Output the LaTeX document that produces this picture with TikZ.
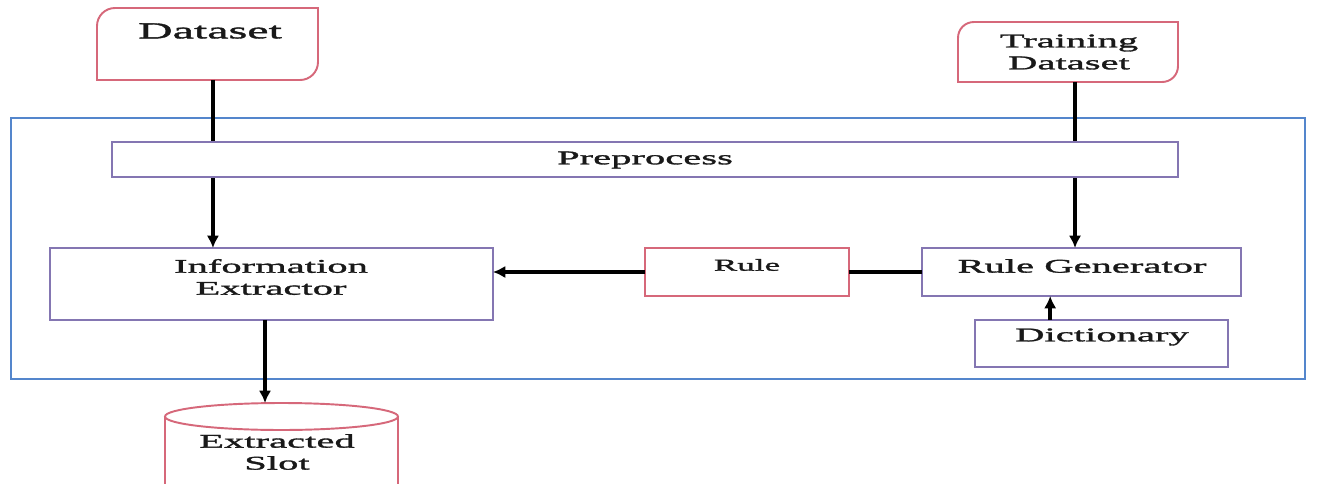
\documentclass[tikz,border=0pt]{standalone}
\usepackage{fontspec}
\setmainfont[FakeStretch=2.1, FakeBold=1.6]{Liberation Serif}
\usetikzlibrary{arrows.meta}
\definecolor{pinkline}{RGB}{214,104,122}
\definecolor{purpline}{RGB}{132,118,178}
\definecolor{blueline}{RGB}{84,134,204}
\definecolor{txtcol}{RGB}{25,25,25}
\tikzset{
  box/.style={draw=purpline, line width=1.1pt, fill=white, inner sep=0pt, outer sep=0pt},
  pinkbox/.style={draw=pinkline, line width=1.1pt, fill=white, inner sep=0pt, outer sep=0pt},
  hidebox/.style={draw=none, inner sep=0pt, outer sep=0pt},
  pinkpath/.style={draw=pinkline, line width=1.1pt, fill=white},
  txt/.style={text=txtcol, align=center, inner sep=0pt, font=\fontsize{11}{12.5}\selectfont},
  arr/.style={line width=2pt, black, -{Latex[length=7pt,width=7pt]}},
  conn/.style={line width=2pt, black},
}
\begin{document}
\begin{tikzpicture}[x=0.02cm,y=-0.02cm]
\clip (0,0) rectangle (1320,484);
\fill[white] (0,0) rectangle (1320,484);
% outer frame
\node[draw=blueline, line width=1.4pt, minimum width=25.88cm, minimum height=5.22cm, inner sep=0pt, outer sep=0pt] (frame) at (658,248.5) {};
% Dataset
\node[hidebox, minimum width=4.42cm, minimum height=1.44cm] (ds) at (207.5,44) {};
\draw[pinkpath] (97,26) .. controls (97,16) and (105,8) .. (115,8) -- (318,8) -- (318,62) .. controls (318,72) and (310,80) .. (300,80) -- (97,80) -- cycle;
\node[txt, font=\fontsize{13}{15}\selectfont] (dst) at (210,31) {Dataset};
% Training dataset
\node[hidebox, minimum width=4.40cm, minimum height=1.20cm] (td) at (1068,52) {};
\draw[pinkpath] (958,38) .. controls (958,29) and (965,22) .. (974,22) -- (1178,22) -- (1178,66) .. controls (1178,75) and (1171,82) .. (1162,82) -- (958,82) -- cycle;
\node[txt] (tdt) at (1069,52) {Training\\Dataset};
% Information extractor
\node[box, minimum width=8.86cm, minimum height=1.44cm] (ie) at (271.5,284) {};
\node[txt] (iet) at (271,277) {Information\\Extractor};
% Rule
\node[pinkbox, minimum width=4.08cm, minimum height=0.96cm] (rule) at (747,272) {};
\node[txt, font=\fontsize{9.5}{11}\selectfont] (rulet) at (747,265) {Rule};
% Rule generator
\node[box, minimum width=6.38cm, minimum height=0.96cm] (rg) at (1081.5,272) {};
\node[txt] (rgt) at (1082,266) {Rule Generator};
% Dictionary
\node[box, minimum width=5.06cm, minimum height=0.94cm] (dict) at (1101.5,343.5) {};
\node[txt] (dictt) at (1102,337) {Dictionary};
% Extracted slot cylinder
\draw[pinkpath] (165,416.5) -- (165,500) -- (398,500) -- (398,416.5);
\draw[pinkpath] (281.5,416.5) ellipse [x radius=2.33cm, y radius=0.27cm];
\coordinate (es) at (281.5,403);
\node[txt] (est) at (277,452) {Extracted\\Slot};
% connectors
\draw[arr] ([xshift=3.1pt]ds.south) -- ([xshift=3.1pt]ds.south |- ie.north);
\draw[arr] ([xshift=4pt]td.south) -- ([xshift=4pt]td.south |- rg.north);
\draw[conn] (rg.west) -- (rule.east);
\draw[arr] (rule.west) -- (rule.west -| ie.east);
\draw[arr] ([xshift=-29.2pt]dict.north) -- ([xshift=-29.2pt]dict.north |- rg.south);
\draw[arr] ([xshift=-3.7pt]ie.south) -- ([xshift=-3.7pt]ie.south |- es);
% Preprocess (drawn over connectors)
\node[box, minimum width=21.32cm, minimum height=0.70cm] (pre) at (645,159.5) {};
\node[txt] (pret) at (645,160) {Preprocess};
\end{tikzpicture}
\end{document}
